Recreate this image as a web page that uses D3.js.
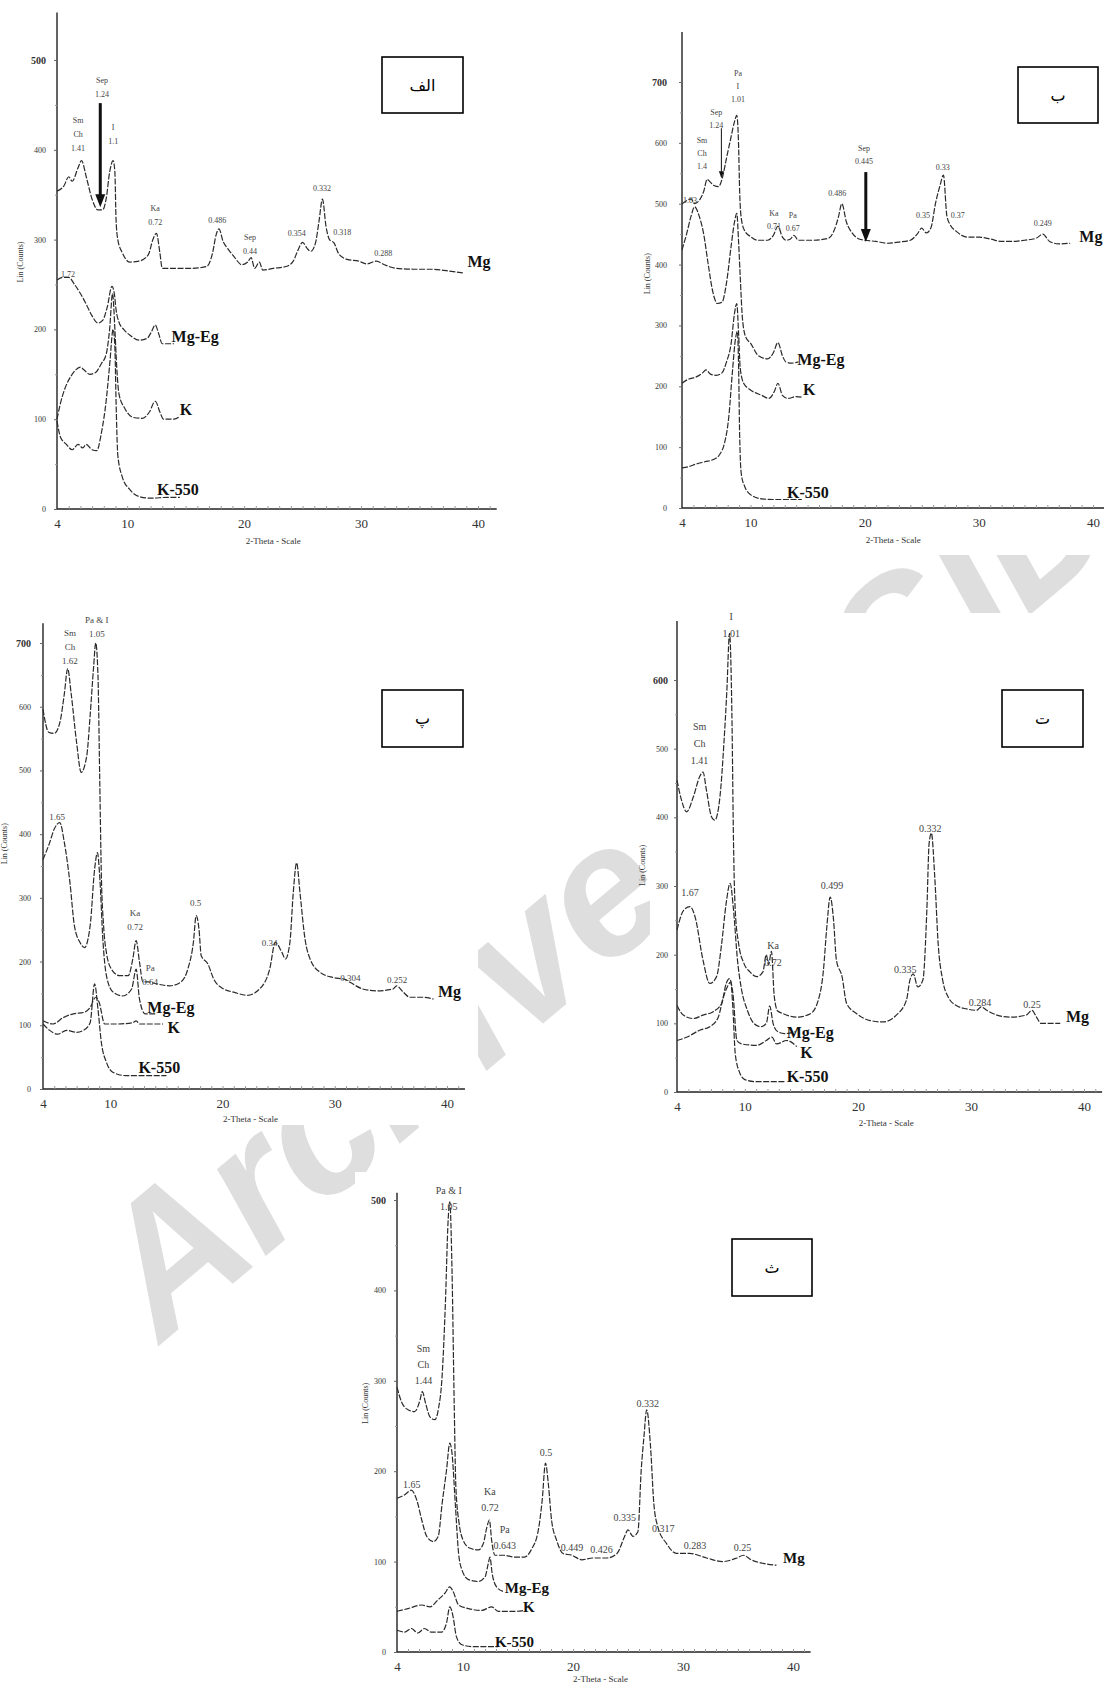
<!DOCTYPE html>
<html>
<head>
<meta charset="utf-8">
<script src="https://cdn.jsdelivr.net/npm/d3@7"></script>
<style>
  body { margin: 0; background: #fff; }
  svg text { font-family: "Liberation Serif", "DejaVu Serif", serif; }
</style>
</head>
<body>
<svg id="fig" width="1104" height="1686"></svg>
<script>
// ---- data (2-theta in degrees, intensity in counts) ----
const xTickLabels = [4, 10, 20, 30, 40];

// panel alef
const alefMg = [[4,354],[4.6,360],[5,370],[5.3,365],[5.8,380],[6.1,388],[6.5,370],[7,345],[7.5,333],[7.9,333],[8.2,345],[8.5,375],[8.8,388],[8.95,375],[9.05,322],[9.2,300],[9.6,285],[10.2,275],[11,276],[11.8,283],[12.2,300],[12.5,307],[12.8,285],[13,268],[14,268],[15.5,268],[16.8,270],[17.3,285],[17.6,305],[17.85,312],[18.2,298],[18.6,290],[19.2,280],[19.8,272],[20.3,275],[20.6,280],[20.9,268],[21.3,275],[21.6,266],[22.5,268],[23.6,270],[24.2,276],[24.6,288],[25,297],[25.4,290],[25.7,287],[26.1,296],[26.4,320],[26.7,345],[27,315],[27.3,300],[27.7,296],[28.1,284],[28.8,278],[29.8,276],[30.5,273],[31.3,276],[32,272],[33,268],[34.5,267],[36,267],[37.5,265],[38.7,263]];
const alefMgEg = [[4,255],[4.5,258],[5,258],[5.5,250],[6,240],[6.5,228],[7,215],[7.5,207],[7.9,210],[8.3,225],[8.7,248],[8.9,240],[9.05,222],[9.3,208],[9.7,200],[10.3,193],[11,188],[11.7,190],[12.1,198],[12.4,205],[12.7,195],[13,184],[14,184]];
const alefK = [[4,100],[4.3,118],[4.7,135],[5.2,148],[5.6,155],[6,158],[6.3,155],[6.8,150],[7.3,152],[7.8,162],[8.2,172],[8.5,200],[8.75,240],[8.95,200],[9.1,160],[9.3,128],[9.8,112],[10.5,102],[11.3,101],[11.9,108],[12.4,120],[12.8,108],[13.1,100],[14,100],[14.5,103]];
const alefK550 = [[4,98],[4.3,80],[4.8,72],[5.3,66],[5.8,72],[6.2,68],[6.5,72],[7,66],[7.4,65],[7.8,85],[8.2,120],[8.5,160],[8.8,200],[8.95,180],[9.05,120],[9.2,60],[9.6,35],[10.2,22],[11,14],[12,12],[13.5,13],[14.5,13]];
const alefNotes = [
  { lines: ["Sm", "Ch", "1.41"], at: [5.8, 433] },
  { lines: ["Sep", "1.24"], at: [7.85, 478] },
  { lines: ["I", "1.1"], at: [8.8, 425] },
  { lines: ["Ka", "0.72"], at: [12.4, 335] },
  { lines: ["0.486"], at: [17.7, 322] },
  { lines: ["Sep", "0.44"], at: [20.5, 303] },
  { lines: ["0.354"], at: [24.5, 307] },
  { lines: ["0.332"], at: [26.65, 357] },
  { lines: ["0.318"], at: [28.4, 308] },
  { lines: ["0.288"], at: [31.9, 285] },
  { lines: ["1.72"], at: [4.95, 261] }
];
const alefLabels = [["Mg", 39.1, 270], ["Mg-Eg", 13.8, 186], ["K", 14.5, 105], ["K-550", 12.55, 16]];
const alefArrows = [{ at: 7.7, from: 452, to: 336, heavy: true }];

// panel be
const beMg = [[4,500],[4.4,505],[4.8,508],[5.1,500],[5.5,505],[5.9,520],[6.2,540],[6.5,535],[6.8,530],[7.2,528],[7.5,540],[7.9,575],[8.3,610],[8.6,635],[8.8,645],[8.95,600],[9.05,520],[9.2,475],[9.5,455],[10,446],[10.6,440],[11.5,440],[12,448],[12.4,463],[12.8,445],[13.1,440],[13.5,442],[13.8,448],[14.2,440],[15.5,440],[16.8,443],[17.3,455],[17.7,478],[18,500],[18.4,470],[18.9,452],[19.5,442],[20,440],[21,438],[22,435],[23,437],[24,440],[24.6,450],[25,460],[25.4,452],[25.8,460],[26.2,500],[26.6,530],[26.9,547],[27.2,480],[27.5,465],[28,455],[28.5,448],[29,445],[30,445],[31,442],[32,438],[33,438],[34,440],[35,443],[35.6,450],[36.2,438],[37,434],[38,435]];
const beMgEg = [[4,424],[4.4,450],[4.8,480],[5.1,495],[5.5,480],[5.9,450],[6.3,400],[6.7,355],[7.1,336],[7.5,338],[7.9,370],[8.3,430],[8.6,470],[8.8,484],[8.95,440],[9.1,380],[9.3,310],[9.6,280],[10,271],[10.7,250],[11.5,245],[12,255],[12.4,272],[12.8,250],[13.1,240],[13.6,238],[14.2,240]];
const beK = [[4,205],[4.6,212],[5.2,215],[5.8,222],[6.1,227],[6.5,220],[7,218],[7.5,222],[7.9,240],[8.3,270],[8.6,320],[8.8,336],[8.95,290],[9.1,230],[9.4,205],[10,194],[11,185],[11.6,180],[12.1,192],[12.4,205],[12.8,185],[13.3,180],[14,183],[14.5,182]];
const beK550 = [[4,66],[4.6,68],[5.2,72],[6,76],[6.8,80],[7.3,88],[7.7,105],[8.1,150],[8.4,220],[8.7,280],[8.85,290],[8.95,240],[9.05,120],[9.2,55],[9.5,35],[10,22],[11,15],[12,14],[13,14],[14.5,14]];
const beNotes = [
  { lines: ["Pa", "I", "1.01"], at: [8.9, 715] },
  { lines: ["Sep", "1.24"], at: [7.0, 651] },
  { lines: ["Sm", "Ch", "1.4"], at: [5.75, 605] },
  { lines: ["1.83"], at: [4.7, 506] },
  { lines: ["Ka", "0.71"], at: [12.05, 485] },
  { lines: ["Pa", "0.67"], at: [13.7, 481] },
  { lines: ["0.486"], at: [17.6, 518] },
  { lines: ["Sep", "0.445"], at: [19.95, 592] },
  { lines: ["0.33"], at: [26.85, 560] },
  { lines: ["0.35"], at: [25.1, 481] },
  { lines: ["0.37"], at: [28.15, 481] },
  { lines: ["0.249"], at: [35.6, 468] }
];
const beLabels = [["Mg", 38.8, 437], ["Mg-Eg", 14.1, 235], ["K", 14.6, 186], ["K-550", 13.2, 16]];
const beArrows = [{ at: 7.45, from: 624, to: 542, heavy: false }, { at: 20.1, from: 552, to: 437, heavy: true }];

// panel pe
const peMg = [[4,596],[4.5,560],[5,558],[5.5,575],[5.9,620],[6.2,660],[6.5,622],[7,543],[7.4,497],[7.9,523],[8.2,586],[8.5,660],[8.7,700],[8.9,648],[9.05,492],[9.2,335],[9.4,256],[9.65,214],[10.1,188],[10.8,178],[11.6,178],[12,204],[12.3,233],[12.6,199],[12.9,168],[13.4,168],[14.1,165],[15.3,162],[16.3,168],[16.9,188],[17.4,230],[17.65,272],[17.9,251],[18.1,209],[18.7,196],[19.2,173],[20.1,157],[21,152],[22.2,147],[23.3,157],[24.2,188],[24.7,230],[25.3,214],[25.6,204],[26,230],[26.3,308],[26.6,355],[26.9,308],[27.35,235],[27.8,204],[28.7,183],[29.85,175],[30.9,172],[31.4,167],[32.5,157],[33.7,154],[35.2,157],[35.5,162],[36.1,152],[36.7,144],[37.9,144],[38.8,141]];
const peMgEg = [[4,360],[4.6,387],[5,408],[5.5,418],[5.9,387],[6.4,324],[6.8,256],[7.3,230],[7.7,222],[8.2,256],[8.6,345],[8.85,371],[9.05,335],[9.35,230],[9.65,178],[10.25,152],[11.1,146],[11.9,157],[12.3,188],[12.6,141],[13.1,118],[14.1,118]];
const peK = [[4,107],[4.9,102],[5.8,112],[6.7,118],[7.6,120],[8.2,128],[8.7,144],[9,136],[9.5,102],[10.5,102],[12,104],[12.3,107],[12.6,102],[14.7,102]];
const peK550 = [[4,102],[4.6,92],[5.3,86],[6.1,92],[7,89],[7.6,92],[8.2,104],[8.6,165],[8.9,125],[9.2,73],[9.65,42],[10.25,26],[11.4,21],[13.5,21],[15,21]];
const peNotes = [
  { lines: ["Pa & I", "1.05"], at: [8.8, 736] },
  { lines: ["Sm", "Ch", "1.62"], at: [6.4, 716] },
  { lines: ["1.65"], at: [5.25, 427] },
  { lines: ["Ka", "0.72"], at: [12.2, 276] },
  { lines: ["Pa", "0.64"], at: [13.55, 190] },
  { lines: ["0.5"], at: [17.6, 292] },
  { lines: ["0.34"], at: [24.2, 229] },
  { lines: ["0.304"], at: [31.4, 174] },
  { lines: ["0.252"], at: [35.55, 171] }
];
const peLabels = [["Mg", 39.2, 144], ["Mg-Eg", 13.3, 120], ["K", 15.1, 88], ["K-550", 12.5, 25]];

// panel te
const teMg = [[4,454],[4.4,425],[4.85,408],[5.45,430],[6,459],[6.3,466],[6.6,440],[7.05,401],[7.35,396],[7.8,430],[8.15,508],[8.4,581],[8.65,668],[8.85,556],[9,362],[9.15,265],[9.45,216],[9.9,188],[10.45,175],[11.05,168],[11.6,175],[11.9,200],[12.1,185],[12.35,205],[12.6,140],[12.9,118],[13.4,114],[14.6,109],[15.8,114],[16.5,134],[16.95,177],[17.25,240],[17.55,284],[17.85,250],[18.1,192],[18.6,168],[19,129],[19.9,114],[21.1,104],[22.2,102],[23.4,112],[24.3,134],[24.6,163],[24.9,172],[25.3,153],[25.75,163],[26.1,265],[26.3,362],[26.5,377],[26.8,313],[27.1,216],[27.5,163],[28,138],[28.7,126],[29.6,121],[30.5,119],[30.9,124],[31.4,119],[32.3,112],[33.5,109],[34.9,112],[35.4,119],[35.8,109],[36.2,100],[37.9,100]];
const teMgEg = [[4,236],[4.6,265],[5.15,270],[5.6,255],[6.3,192],[6.9,158],[7.5,168],[7.95,216],[8.35,275],[8.7,304],[9,265],[9.35,192],[9.7,150],[10.2,120],[10.8,100],[11.4,95],[11.9,100],[12.2,125],[12.5,100],[12.9,88],[13.5,85],[14.5,88]];
const teK = [[4,126],[4.55,112],[5.45,107],[6.3,112],[7.2,117],[7.95,129],[8.35,158],[8.65,165],[8.95,143],[9.3,75],[9.7,70],[11.05,68],[11.9,75],[12.4,80],[12.8,70],[13.7,75],[14.6,66]];
const teK550 = [[4,75],[4.9,80],[6,90],[6.9,95],[7.65,109],[8.1,138],[8.45,153],[8.75,160],[8.95,120],[9.15,56],[9.5,30],[10,18],[11,15],[12,15],[13.5,15]];
const teNotes = [
  { lines: ["I", "1.01"], at: [8.8, 693] },
  { lines: ["Sm", "Ch", "1.41"], at: [6.0, 532] },
  { lines: ["1.67"], at: [5.15, 290] },
  { lines: ["Ka", "0.72"], at: [12.5, 214] },
  { lines: ["0.499"], at: [17.7, 301] },
  { lines: ["0.332"], at: [26.4, 384] },
  { lines: ["0.335"], at: [24.2, 179] },
  { lines: ["0.284"], at: [30.8, 130] },
  { lines: ["0.25"], at: [35.4, 127] }
];
const teLabels = [["Mg", 38.4, 102], ["Mg-Eg", 13.7, 78], ["K", 14.9, 50], ["K-550", 13.7, 15]];

// panel se
const seMg = [[4,293],[4.4,277],[5,268],[5.6,266],[6.1,279],[6.3,288],[6.6,275],[7,260],[7.45,257],[7.75,268],[8.1,305],[8.4,386],[8.65,478],[8.8,498],[9,423],[9.2,275],[9.35,183],[9.65,142],[10,124],[10.6,115],[11.4,113],[11.85,120],[12.15,137],[12.4,146],[12.6,124],[12.9,107],[13.7,107],[14.7,105],[15.6,105],[16.2,113],[16.85,135],[17.2,168],[17.5,209],[17.75,187],[18.05,146],[18.5,124],[19.1,109],[19.9,107],[20.8,102],[21.8,104],[23.1,104],[24,109],[24.7,128],[25,135],[25.45,128],[25.9,133],[26.2,201],[26.45,238],[26.7,268],[27.05,227],[27.35,164],[27.7,139],[28.5,120],[29.4,109],[30.6,109],[32.15,104],[33.6,100],[34.9,104],[35.5,107],[36.2,102],[37.3,98],[38.5,96]];
const seMgEg = [[4,170],[4.7,174],[5.3,179],[5.8,168],[6.25,146],[6.7,128],[7.3,122],[7.75,128],[8.1,164],[8.5,201],[8.8,231],[9,220],[9.3,164],[9.6,109],[9.9,91],[10.5,80],[11.4,78],[12,83],[12.3,98],[12.45,105],[12.65,87],[13.05,72],[13.65,67]];
const seK = [[4,45],[5,48],[6.25,52],[7,50],[7.75,58],[8.35,65],[8.8,72],[9.1,67],[9.6,52],[10.5,48],[11.7,46],[12.6,50],[13.2,45],[14.7,45],[15.6,46]];
const seK550 = [[4,24],[4.7,22],[5.3,26],[5.9,21],[6.5,26],[7.1,22],[8.05,22],[8.5,32],[8.8,50],[9.1,39],[9.4,17],[9.9,8],[10.8,6],[12.3,6],[13.2,6]];
const seNotes = [
  { lines: ["Pa & I", "1.05"], at: [8.7, 511] },
  { lines: ["Sm", "Ch", "1.44"], at: [6.4, 336] },
  { lines: ["1.65"], at: [5.35, 185] },
  { lines: ["Ka", "0.72"], at: [12.45, 177] },
  { lines: ["Pa", "0.643"], at: [13.8, 135] },
  { lines: ["0.5"], at: [17.55, 221] },
  { lines: ["0.449"], at: [19.9, 116] },
  { lines: ["0.426"], at: [22.6, 113] },
  { lines: ["0.335"], at: [24.7, 149] },
  { lines: ["0.332"], at: [26.8, 275] },
  { lines: ["0.317"], at: [28.2, 137] },
  { lines: ["0.283"], at: [31.1, 118] },
  { lines: ["0.25"], at: [35.4, 116] }
];
const seLabels = [["Mg", 39.1, 98], ["Mg-Eg", 13.8, 65], ["K", 15.45, 44], ["K-550", 12.9, 6]];

// ---- layout ----
const panels = [
  { letter: "الف", bg: [0, 0, 505, 553], xr: [57, 478], yr: [509, 60], yMax: 500, yTop: 553, box: [382, 57, 81, 56],
    series: [alefMg, alefMgEg, alefK, alefK550], notes: alefNotes, labels: alefLabels, arrows: alefArrows,
    noteSize: 8, noteGap: 14, labelSize: 16, yPad: 8, titleOff: 34, titleY: 35 },
  { letter: "ب", bg: [640, 18, 464, 537], xr: [682, 1093], yr: [508, 82], yMax: 700, yTop: 782, box: [1018, 67, 80, 56],
    series: [beMg, beMgEg, beK, beK550], notes: beNotes, labels: beLabels, arrows: beArrows,
    noteSize: 8, noteGap: 13, labelSize: 16, yPad: 12, titleOff: 32, titleY: 35 },
  { letter: "پ", bg: [0, 613, 478, 512], xr: [43, 447], yr: [1089, 643], yMax: 700, yTop: 731, box: [382, 690, 81, 57],
    series: [peMg, peMgEg, peK, peK550], notes: peNotes, labels: peLabels, arrows: [],
    noteSize: 9, noteGap: 14, labelSize: 16, yPad: 9, titleOff: 36, titleY: 33 },
  { letter: "ت", bg: [650, 613, 454, 518], xr: [677, 1084], yr: [1092, 680], yMax: 600, yTop: 686, box: [1002, 690, 81, 57],
    series: [teMg, teMgEg, teK, teK550], notes: teNotes, labels: teLabels, arrows: [],
    noteSize: 10, noteGap: 17, labelSize: 16, yPad: 6, titleOff: 32, titleY: 34 },
  { letter: "ث", bg: [355, 1172, 462, 514], xr: [397, 793], yr: [1652, 1200], yMax: 500, yTop: 508, box: [732, 1239, 80, 57],
    series: [seMg, seMgEg, seK, seK550], notes: seNotes, labels: seLabels, arrows: [],
    noteSize: 10, noteGap: 16, labelSize: 15, yPad: 8, titleOff: 29, titleY: 30 }
];

const svg = d3.select("#fig");
svg.append("rect").attr("width", 1104).attr("height", 1686).attr("fill", "#fff");

// faint watermark, mostly hidden behind the opaque panel images
svg.append("text")
  .attr("transform", "translate(161,1344) rotate(-40)")
  .style("font-family", "Liberation Sans")
  .style("font-style", "italic")
  .style("font-weight", "bold")
  .style("font-size", "185px")
  .attr("fill", "#dedede")
  .text("Archive of SID");

function drawPanel(p) {
  const x = d3.scaleLinear().domain([4, 40]).range(p.xr);
  const y = d3.scaleLinear().domain([0, p.yMax]).range(p.yr);
  const g = svg.append("g");
  const ink = "#222";

  g.append("rect")
    .attr("x", p.bg[0]).attr("y", p.bg[1]).attr("width", p.bg[2]).attr("height", p.bg[3])
    .attr("fill", "#fff");

  // axis lines
  g.append("line")
    .attr("x1", x(4)).attr("x2", x(41.6)).attr("y1", y(0)).attr("y2", y(0))
    .attr("stroke", ink).attr("stroke-width", 1.4);
  g.append("line")
    .attr("x1", x(4)).attr("x2", x(4)).attr("y1", y(0)).attr("y2", y(p.yTop))
    .attr("stroke", ink).attr("stroke-width", 1.4);

  // minor x ticks
  g.append("g").attr("transform", `translate(0,${y(0)})`)
    .call(d3.axisBottom(x).tickValues(d3.range(5, 42)).tickSize(-3).tickFormat(""))
    .call(a => a.select(".domain").remove())
    .selectAll("line").attr("stroke", "#999");

  // x tick labels
  g.append("g").attr("transform", `translate(0,${y(0)})`)
    .call(d3.axisBottom(x).tickValues(xTickLabels).tickSize(0).tickPadding(10))
    .call(a => a.select(".domain").remove())
    .selectAll("text").style("font-size", "13px").attr("fill", "#333");

  // y ticks
  g.append("g").attr("transform", `translate(${x(4)},0)`)
    .call(d3.axisLeft(y).tickValues(d3.range(50, p.yMax, 100)).tickSize(2).tickFormat(""))
    .call(a => a.select(".domain").remove())
    .selectAll("line").attr("stroke", "#999");
  g.append("g").attr("transform", `translate(${x(4)},0)`)
    .call(d3.axisLeft(y).tickValues(d3.range(0, p.yMax + 1, 100)).tickSize(3).tickPadding(p.yPad))
    .call(a => a.select(".domain").remove())
    .call(a => a.selectAll("line").attr("stroke", "#666"))
    .selectAll("text")
    .style("font-size", d => d === p.yMax ? "10px" : "8px")
    .style("font-weight", d => d === p.yMax ? "bold" : "normal")
    .attr("fill", "#333");

  // axis titles
  g.append("text")
    .attr("x", x(22.5)).attr("y", y(0) + p.titleY)
    .attr("text-anchor", "middle")
    .style("font-size", "9px").attr("fill", "#333")
    .text("2-Theta - Scale");
  g.append("text")
    .attr("transform", `translate(${x(4) - p.titleOff},${y(p.yMax * 0.55)}) rotate(-90)`)
    .attr("text-anchor", "middle")
    .style("font-size", "8px").attr("fill", "#333")
    .text("Lin (Counts)");

  // traces
  const line = d3.line().x(d => x(d[0])).y(d => y(d[1])).curve(d3.curveMonotoneX);
  p.series.forEach(s => {
    g.append("path").datum(s)
      .attr("d", line)
      .attr("fill", "none")
      .attr("stroke", "#2a2a2a")
      .attr("stroke-width", 1.2)
      .attr("stroke-dasharray", "6,1.6");
  });

  // series labels
  p.labels.forEach(([t, dx, dy]) => {
    g.append("text")
      .attr("x", x(dx)).attr("y", y(dy))
      .style("font-size", p.labelSize + "px")
      .style("font-weight", "bold")
      .attr("fill", "#111")
      .text(t);
  });

  // peak notes
  p.notes.forEach(n => {
    const t = g.append("text")
      .attr("text-anchor", "middle")
      .style("font-size", p.noteSize + "px")
      .attr("fill", "#444");
    n.lines.forEach((l, i) => {
      t.append("tspan")
        .attr("x", x(n.at[0]))
        .attr("y", y(n.at[1]) + i * p.noteGap)
        .attr("dy", "0.35em")
        .text(l);
    });
  });

  // arrows
  p.arrows.forEach(a => {
    const w = a.heavy ? 5 : 2.5, len = a.heavy ? 13 : 7;
    const xa = x(a.at), y1 = y(a.from), y2 = y(a.to);
    g.append("line")
      .attr("x1", xa).attr("x2", xa).attr("y1", y1).attr("y2", y2 - len + 1)
      .attr("stroke", "#111").attr("stroke-width", a.heavy ? 3 : 1);
    g.append("path")
      .attr("d", `M${xa - w},${y2 - len}L${xa + w},${y2 - len}L${xa},${y2}Z`)
      .attr("fill", "#111");
  });

  // letter box
  g.append("rect")
    .attr("x", p.box[0]).attr("y", p.box[1]).attr("width", p.box[2]).attr("height", p.box[3])
    .attr("fill", "#fff").attr("stroke", "#000").attr("stroke-width", 1.6);
  g.append("text")
    .attr("x", p.box[0] + p.box[2] / 2).attr("y", p.box[1] + p.box[3] / 2)
    .attr("text-anchor", "middle").attr("dominant-baseline", "central")
    .style("font-family", "DejaVu Sans")
    .style("font-size", "16px")
    .text(p.letter);
}

panels.forEach(drawPanel);
</script>
</body>
</html>
